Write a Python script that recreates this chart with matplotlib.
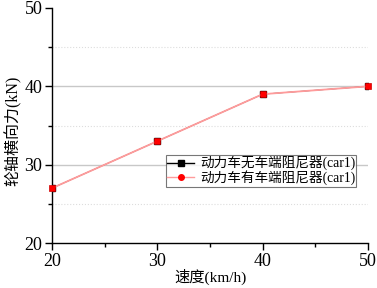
import matplotlib
matplotlib.use("Agg")
import matplotlib.pyplot as plt
from matplotlib.lines import Line2D
from matplotlib.ticker import MultipleLocator

plt.rcParams['font.family'] = ['Liberation Serif', 'Noto Sans CJK SC']

speed = [20, 30, 40, 50]
no_damper = [27, 33, 39, 40]
with_damper = [27, 33, 39, 40]
labels = ['动力车无车端阻尼器(car1)', '动力车有车端阻尼器(car1)']
major_grid = [30, 40]
minor_grid = [25, 35, 45]

fig = plt.figure(figsize=(3.77, 2.88), dpi=100)
ax = fig.add_axes([52/377, 1-243/288, 316/377, 235/288])

for g in major_grid:
    ax.axhline(g, color='#c8c8c8', lw=1, zorder=0)
for g in minor_grid:
    ax.axhline(g, color='#dddddd', lw=0.8, ls=':', zorder=0)

ax.plot(speed, no_damper, color='black', marker='s', ms=4, lw=0.6, zorder=3)
ax.plot(speed, with_damper, color='#ff9b9b', marker='s', ms=5, lw=1.3,
        mfc='red', mec='#cc0000', mew=0.5, clip_on=False, zorder=5)

ax.set_xlim(20, 50)
ax.set_ylim(20, 50)
ax.xaxis.set_major_locator(MultipleLocator(10))
ax.xaxis.set_minor_locator(MultipleLocator(5))
ax.yaxis.set_major_locator(MultipleLocator(10))
ax.yaxis.set_minor_locator(MultipleLocator(5))
for s in ['top', 'right']:
    ax.spines[s].set_visible(False)
ax.spines['left'].set_linewidth(1)
ax.spines['bottom'].set_linewidth(1)
ax.tick_params(which='major', direction='out', length=5, width=1, labelsize=13, pad=2)
ax.tick_params(which='minor', direction='out', length=3, width=1)

ax.set_xlabel('速度(km/h)', fontsize=11, va='center')
ax.set_ylabel('轮轴横向力(kN)', fontsize=11.5, va='center')
ax.xaxis.set_label_coords(0.5, -34/235)
ax.yaxis.set_label_coords(-39/316, 0.477)

handles = [Line2D([], [], color='black', marker='s', ms=4, lw=1),
           Line2D([], [], color='#ff9b9b', marker='o', ms=4, lw=1, mfc='red', mec='red')]
leg = ax.legend(handles, labels, loc='upper left', bbox_to_anchor=(0.36, 0.375),
                fontsize=9.8, frameon=True, fancybox=False, edgecolor='#555555',
                borderpad=0.1, borderaxespad=0, handlelength=2.0, handletextpad=0.4,
                labelspacing=0.0)
leg.get_frame().set_linewidth(0.8)

fig.savefig('out.png', dpi=100)
